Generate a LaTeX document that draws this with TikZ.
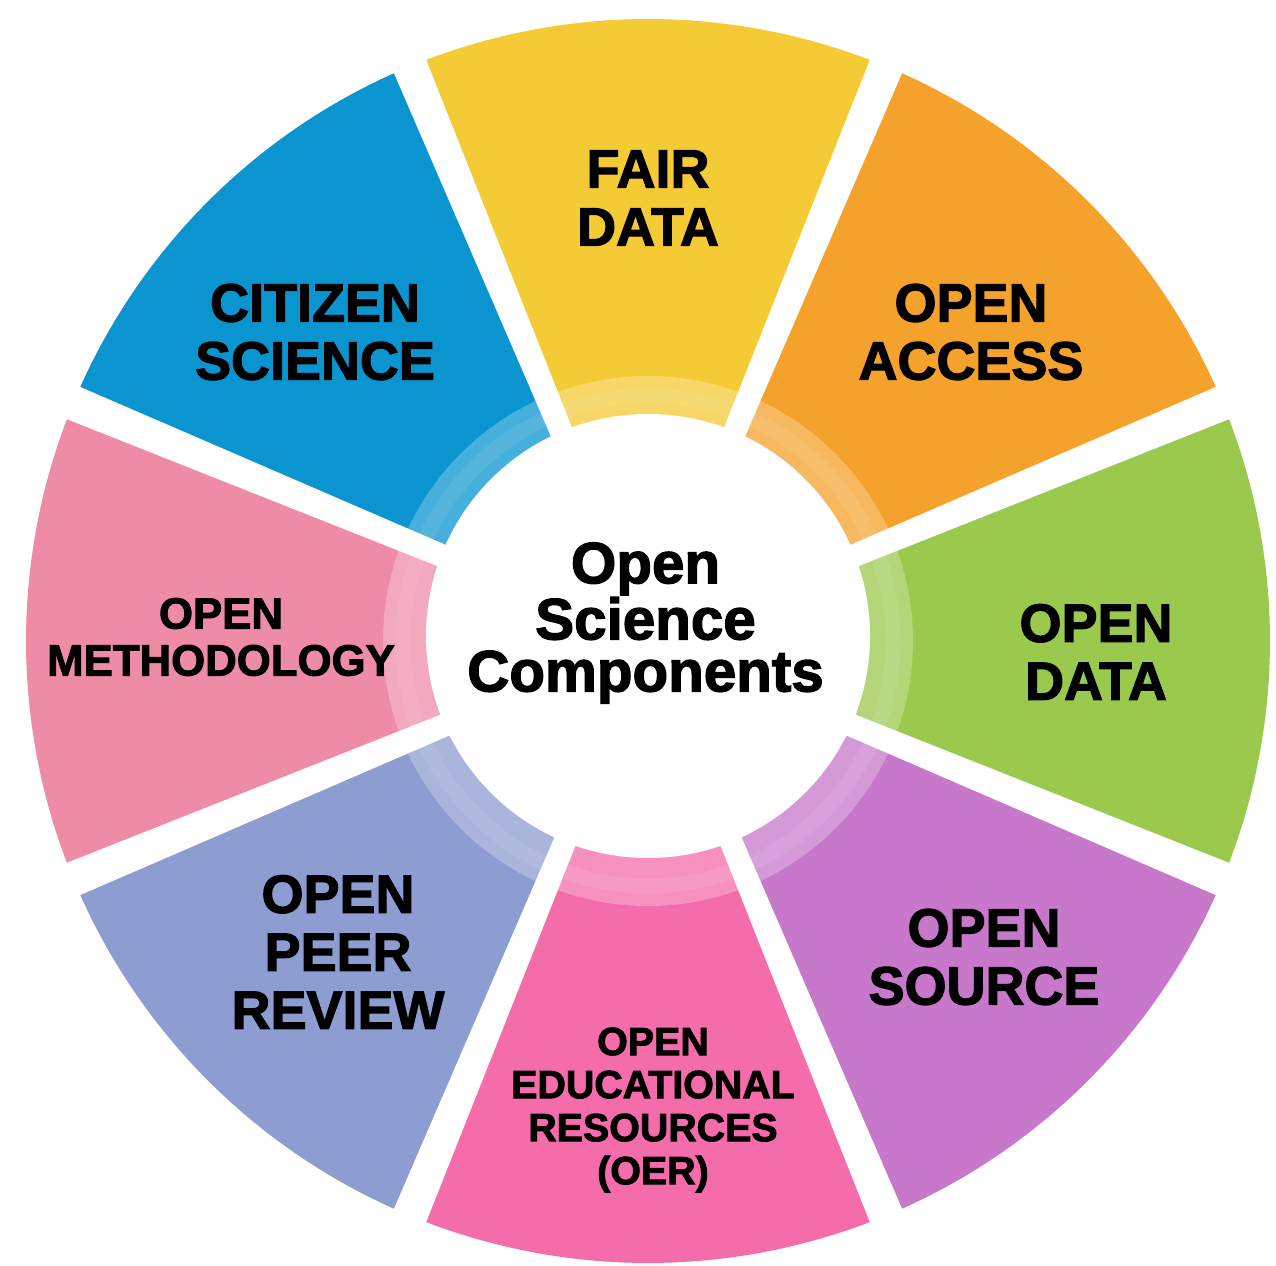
\documentclass[tikz,border=0pt]{standalone}
\usepackage{fontspec}
\setmainfont{Liberation Sans}
\newfontfamily\heavyfont{Liberation Sans}[FakeBold=2.2]
\usepackage{xcolor}
\definecolor{fairyellow}{HTML}{F4CA35}
\definecolor{accessorange}{HTML}{F5A22C}
\definecolor{datagreen}{HTML}{9BC94D}
\definecolor{sourcepurple}{HTML}{C878CB}
\definecolor{oerpink}{HTML}{F46DAA}
\definecolor{peerblue}{HTML}{8E9DD1}
\definecolor{methodrose}{HTML}{EE8CA8}
\definecolor{citizenblue}{HTML}{0A95D0}

\begin{document}
\begin{tikzpicture}[
  every node/.style={align=center, text=black},
  biglabel/.style={font=\heavyfont\bfseries\fontsize{30.7}{33}\selectfont},
  midlabel/.style={font=\heavyfont\bfseries\fontsize{24.9}{26.7}\selectfont},
  smalllabel/.style={font=\heavyfont\bfseries\fontsize{22.4}{24.5}\selectfont},
  titlelabel/.style={font=\heavyfont\bfseries\fontsize{33.2}{29.6}\selectfont}
]

% Parameters (in cm, 50 px = 1 cm)
\def\cx{12.96}   % centre of the wheel
\def\cy{12.48}
\def\R{12.44}    % outer radius
\def\Rring{5.3}  % radius of the light ring
\def\Rin{4.44}   % radius of the white centre disc

\useasboundingbox (0,0) rectangle (25.52,25.30);

% --- Coloured sectors ---
\foreach \a/\col in {90/fairyellow, 45/accessorange, 0/datagreen, -45/sourcepurple,
                     -90/oerpink, -135/peerblue, 180/methodrose, 135/citizenblue}{
  \fill[\col] (\cx,\cy) -- ++({\a-22.5}:\R)
    arc[start angle={\a-22.5}, end angle={\a+22.5}, radius=\R] -- cycle;
}

% --- Light ring round the centre ---
\fill[white, opacity=0.25] (\cx,\cy) circle (\Rring);
\draw[white, opacity=0.08, line width=0.3cm] (\cx,\cy) circle ({\Rring-0.4});

% --- White gaps between sectors ---
\foreach \a in {22.5,67.5,...,337.5}{
  \fill[white, shift={(\cx,\cy)}, rotate=\a]
    (0,-0.16) -- (13.2,-0.36) -- (13.2,0.36) -- (0,0.16) -- cycle;
}

% --- Centre disc ---
\node[circle, fill=white, minimum size={2*\Rin cm}, inner sep=0pt] (centre) at (\cx,12.58) {};
\node[titlelabel] (title) at ([xshift=-0.05cm, yshift=0.26cm]centre.center) {Open\\Science\\Components};

% --- Labels of the sectors ---
\node[biglabel]   (fair)     at (12.96,21.34) {FAIR\\DATA};
\node[biglabel]   (access)   at (19.42,18.66) {OPEN\\ACCESS};
\node[biglabel]   (opendata) at (21.92,12.26) {OPEN\\DATA};
\node[biglabel]   (source)   at (19.68,6.16)  {OPEN\\SOURCE};
\node[smalllabel] (oer)      at (13.06,3.10)  {OPEN\\EDUCATIONAL\\RESOURCES\\(OER)};
\node[biglabel]   (peer)     at (6.76,6.26)   {OPEN\\PEER\\REVIEW};
\node[midlabel]   (method)   at (4.42,12.56)  {OPEN\\METHODOLOGY};
\node[biglabel]   (citizen)  at (6.30,18.66)  {CITIZEN\\SCIENCE};

\end{tikzpicture}
\end{document}
